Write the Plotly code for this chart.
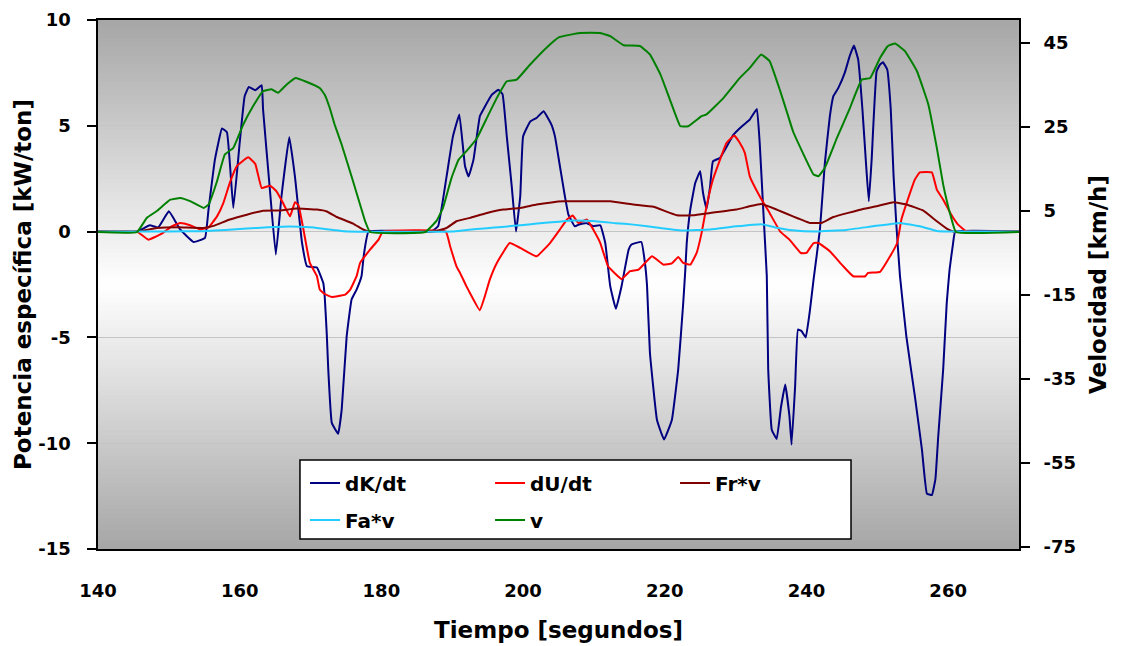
import plotly.graph_objects as go

# ---------------- data ----------------
t_dk = [140, 145.5, 147.3, 148.5, 150, 151.6, 153.5, 155.1, 155.6, 156.5, 157.5, 158.2, 159.1, 160, 160.7,
        161.3, 162.2, 163.1, 163.3, 164.3, 165.1, 165.9, 167, 167.8, 168.8, 169.5, 170.9, 171.8, 172, 172.3,
        172.5, 173, 173.9, 174.4, 175.1, 175.8, 176.5, 177.2, 177.5, 178.2, 187, 188, 189.2, 190.1, 191,
        191.8, 192.3, 193, 193.9, 194.6, 195.6, 196.5, 197.1, 197.7, 198.4, 199, 199.6, 200, 201, 201.9,
        202.9, 204, 204.5, 205.2, 205.9, 206.4, 207.3, 208, 209, 209.9, 210.9, 211.6, 212.3, 213.1, 213.9,
        214.9, 215.3, 216.7, 217.2, 217.5, 217.9, 218.9, 219.9, 221, 221.9, 222.6, 222.9, 223.1, 223.6, 224.3,
        225, 225.4, 225.9, 226.4, 226.8, 227.8, 228.5, 229.7, 230.9, 232, 232.3, 233, 233.4, 233.9, 234.4,
        234.6, 235.1, 235.8, 236.4, 237, 237.6, 237.9, 238.4, 238.8, 239.3, 239.9, 240.5, 241, 241.9, 242.6,
        243.3, 243.8, 244.5, 245.4, 246.1, 246.7, 247.3, 247.9, 248.4, 248.8, 249.2, 249.9, 250.4, 250.8,
        251.4, 251.9, 252.3, 252.7, 253.2, 254.1, 255.3, 256.3, 257, 257.7, 258.2, 258.6, 259.3, 259.8,
        260.2, 260.7, 261, 270]
dk = [0, 0, 0.3, 0.2, 0.96, 0.1, -0.49, -0.3, 1.04, 3.4, 4.87, 4.7, 1.12, 4.2, 6.4,
      6.84, 6.68, 6.92, 5.77, 1.83, -1.09, 1.67, 4.47, 2.6, -0.54, -1.64, -1.7, -2.43, -3.06, -4.9,
      -6.5, -9.04, -9.55, -8.4, -4.95, -3.2, -2.74, -2.1, -1.17, 0, 0, 0.25, 2.6, 4.5, 5.53,
      3.1, 2.6, 3.4, 5.45, 5.9, 6.47, 6.7, 6.5, 4.5, 2.14, 0, 1.67, 4.5, 5.2, 5.37,
      5.69, 5.06, 4.5, 3.09, 1.67, 0.8, 0.25, 0.35, 0.4, 0.25, 0.3, -0.54, -2.58, -3.65, -2.58,
      -0.85, -0.61, -0.49, -1.48, -2.58, -5.7, -8.9, -9.83, -8.9, -6.5, -3.4, -1.8, -0.54, 1.04, 2.3,
      2.85, 1.83, 1.07, 2.14, 3.32, 3.48, 3.87, 4.58, 4.98, 5.29, 5.45, 5.8, 4.19, 1.04, -2.1,
      -6.5, -9.36, -9.8, -8.3, -7.23, -8.73, -10.07, -7.3, -4.63, -4.7, -5.0, -3.69, -2.27, 0.09, 3.25,
      5.45, 6.4, 6.79, 7.5, 8.29, 8.79, 8.13, 5.77, 3.25, 1.43, 3.4, 7.58, 7.9, 8.0,
      7.66, 5.77, 2.61, 0.25, -2.1, -4.95, -7.78, -10.3, -12.38, -12.45, -11.7, -9.67, -6.5, -3.37,
      -1.8, -0.54, 0, 0]

t_du = [140, 145.5, 147.1, 149, 150.4, 151.6, 153, 154.4, 155.6, 156.8, 157.7, 158.6, 159.6, 161.2, 162.2,
        163.1, 164.3, 165.2, 166.1, 167.1, 167.8, 168.3, 169, 169.9, 170.9, 171.3, 172, 173, 174.9, 175.6,
        176.5, 177, 178.4, 179.6, 180.2, 189.1, 189.7, 190.6, 191.1, 192, 192.5, 193.9, 194.6, 195.3, 196.3,
        198.1, 199.6, 201.9, 203.8, 205.2, 206.2, 207, 207.8, 209, 209.9, 210.9, 212, 213.9, 215.1, 216.3,
        218.2, 219.8, 221, 221.9, 222.6, 223.6, 224.5, 225.2, 225.9, 226.8, 227.8, 228.7, 229.8, 230.6,
        231.3, 232, 233.4, 234.8, 236.3, 237.6, 239.2, 240, 241, 241.7, 243.3, 245.2, 246.6, 248.3, 248.7,
        250.4, 251.8, 252.8, 253.4, 254.3, 255.3, 256, 257.7, 258.4, 259.3, 260.3, 261.4, 262.4, 263, 270]
du = [0, 0, -0.38, -0.1, 0.25, 0.41, 0.3, 0.1, 0.2, 0.72, 1.36, 2.3, 3.09, 3.51, 3.2,
      2.06, 2.17, 1.9, 1.36, 0.72, 1.39, 1.25, 0.1, -1.48, -2.1, -2.74, -2.95, -3.09, -2.98, -2.74,
      -2.1, -1.48, -0.85, -0.38, 0, 0, -0.69, -1.64, -1.95, -2.58, -2.9, -3.72, -3.06, -2.27, -1.48,
      -0.54, -0.77, -1.17, -0.54, 0.1, 0.57, 0.76, 0.41, 0.57, 0.1, -0.54, -1.64, -2.24, -1.87, -1.8,
      -1.17, -1.56, -1.5, -1.2, -1.48, -1.56, -1.01, -0.06, 1.2, 2.46, 3.4, 4.19, 4.54, 4.19,
      3.72, 2.61, 1.67, 0.88, 0.0, -0.38, -1.01, -1.01, -0.54, -0.54, -0.93, -1.64, -2.11, -2.11, -1.95,
      -1.9, -1.17, -0.54, 0.57, 1.51, 2.46, 2.8, 2.8, 1.98, 1.51, 0.88, 0.33, 0.05, 0, 0]

t_fr = [140, 145.5, 148.3, 151.4, 154.9, 156.3, 158.6, 161, 163.3, 165.7, 168, 170.9, 172.3, 173.7, 176,
        177.4, 178.2, 187.3, 189.2, 190.6, 192.5, 194.9, 197.2, 199.6, 201.9, 204, 205.7, 212.3, 215.6,
        218.4, 221.7, 224, 226.4, 230.1, 232, 233.6, 235.8, 238.1, 240.5, 242.1, 243.8, 248, 249.9, 252.3,
        254.1, 256.5, 258.4, 260, 260.7, 270]
fr = [0, 0, 0.17, 0.2, 0.17, 0.27, 0.57, 0.8, 0.99, 1.0, 1.09, 1.04, 0.95, 0.69, 0.38,
      0.1, 0, 0, 0.17, 0.49, 0.65, 0.88, 1.04, 1.12, 1.28, 1.38, 1.43, 1.43, 1.28,
      1.17, 0.77, 0.77, 0.88, 1.04, 1.2, 1.31, 1.04, 0.72, 0.41, 0.41, 0.69, 1.07, 1.2, 1.39,
      1.28, 0.99, 0.49, 0.1, 0, 0]

t_fa = [140, 147, 150, 155, 158, 161, 164, 167, 170, 172, 175.3, 190, 192, 194.9, 197, 199.6, 202, 205.1,
        207, 210.9, 213, 215.6, 219.4, 222.6, 226.4, 230.1, 233.6, 236, 238, 241.4, 245.6, 249.4, 253.2,
        256, 258.4, 260, 270]
fa = [0, 0, 0.01, 0.02, 0.08, 0.15, 0.2, 0.24, 0.2, 0.12, 0, 0, 0.08, 0.16, 0.22, 0.3, 0.38, 0.47,
      0.52, 0.47, 0.4, 0.33, 0.17, 0.05, 0.1, 0.25, 0.35, 0.17, 0.06, 0, 0.08, 0.25, 0.41,
      0.25, 0.03, 0, 0]

t_v = [140, 145.5, 146.9, 148.3, 150.2, 151.6, 153, 154.9, 155.6, 156.8, 157.9, 159.1, 160.5, 161.9, 163.3,
       164.5, 165.4, 166.6, 167.9, 169.4, 171.3, 172, 172.7, 173.4, 174.4, 176, 177, 177.7, 178.4, 186.2,
       187.8, 188.7, 189.9, 190.9, 192, 193.5, 194.9, 196.3, 197.7, 199.1, 201, 203.3, 205.1, 208, 210.9,
       212.3, 214.2, 216.5, 217.9, 219.4, 220.8, 222.2, 223.3, 225.2, 225.9, 228.3, 230.6, 232, 233.6,
       234.8, 236.3, 237.2, 238.1, 239.6, 241, 241.7, 242.6, 244.3, 246.1, 247.8, 249, 250.4, 251.5, 252.5,
       253.9, 255.6, 257.2, 258.4, 259.3, 260.3, 261.1, 270]
v = [0, 0, 3.4, 5.0, 7.7, 8.1, 7.35, 5.75, 6.5, 12.1, 18.45, 20.05, 25.6, 30, 33.55,
     34, 33.15, 35.1, 36.7, 35.8, 34.3, 32.7, 29.6, 25.6, 20.8, 12.1, 6.5, 2.6, 0, 0,
     2.7, 5.75, 12.9, 17.25, 19.25, 22.4, 27.2, 31.95, 35.9, 36.3, 39.9, 43.9, 46.4, 47.4, 47.4,
     46.65, 44.5, 44.3, 42.3, 37.5, 31.2, 25.2, 25.2, 27.6, 28.0, 31.95, 36.7, 39.1, 42.3,
     40.7, 33.55, 28.8, 24.0, 18.45, 13.7, 13.3, 15.3, 22.4, 29.4, 36.3, 36.7, 41.5, 44.3, 44.9,
     43.1, 38.3, 30.4, 20.05, 11.3, 4.2, 0, 0]

x_ticks = [140, 160, 180, 200, 220, 240, 260]
y_left_ticks = [-15, -10, -5, 0, 5, 10]
y_right_ticks = [-75, -55, -35, -15, 5, 25, 45]

# ---------------- figure ----------------
FONT = "DejaVu Sans, Liberation Sans, Arial, sans-serif"
tick_font = dict(family=FONT, size=18, color="black", weight="bold")
title_font = dict(family=FONT, size=23, color="black", weight="bold")
leg_font = dict(family=FONT, size=20, color="black", weight="bold")

NB = "\u00a0"
left_text = [f"{t}{NB * 2}\u200b" for t in y_left_ticks]
right_text = [f"{NB}\u2009{t}" for t in y_right_ticks]

fig = go.Figure()

def line(color):
    return dict(color=color, width=2, shape="spline", smoothing=0.3)

fig.add_trace(go.Scatter(x=t_dk, y=dk, name="dK/dt", mode="lines", line=line("#000080"), legend="legend"))
fig.add_trace(go.Scatter(x=t_du, y=du, name="dU/dt", mode="lines", line=line("#ff0000"), legend="legend"))
fig.add_trace(go.Scatter(x=t_fr, y=fr, name="Fr*v", mode="lines", line=line("#800000"), legend="legend"))
fig.add_trace(go.Scatter(x=t_fa, y=fa, name="Fa*v", mode="lines", line=line("#22ccff"), legend="legend2"))
fig.add_trace(go.Scatter(x=t_v, y=v, name="v", mode="lines", line=line("#008000"), yaxis="y2",
                         legend="legend2"))

# background gradient (dark - white - dark)
shapes = []
N = 120
for i in range(N):
    f0 = i / N
    f1 = (i + 1) / N
    d = abs((f0 + f1) / 2 - 0.5) * 2
    c = round(255 - (255 - 166) * d)
    shapes.append(dict(type="rect", xref="x domain", yref="y domain", x0=0, x1=1, y0=f0,
                       y1=min(1, f1 + 0.003), fillcolor=f"rgb({c},{c},{c})", line=dict(width=0),
                       layer="below"))
# legend box
shapes.append(dict(type="rect", xref="paper", yref="paper", x0=0.2193, x1=0.8176, y0=0.0189, y1=0.1682,
                   fillcolor="white", line=dict(color="black", width=1.5), layer="between"))

leg_common = dict(orientation="h", xanchor="left", yanchor="middle", bgcolor="rgba(0,0,0,0)",
                  borderwidth=0, entrywidth=140, entrywidthmode="pixels", font=leg_font,
                  itemwidth=30, tracegroupgap=0)

fig.update_layout(
    width=1121, height=646, autosize=False,
    margin=dict(l=98, r=102, t=20, b=97, pad=0, autoexpand=False),
    paper_bgcolor="white", plot_bgcolor="white",
    shapes=shapes,
    showlegend=True,
    legend=dict(x=0.2248, y=0.1248, **leg_common),
    legend2=dict(x=0.2248, y=0.0548, **leg_common),
    xaxis=dict(range=[140, 270], tickvals=x_ticks, ticks="", showgrid=False, zeroline=False,
               showline=True, mirror=True, linecolor="black", linewidth=2, automargin=False,
               tickfont=tick_font, ticklabelstandoff=24,
               title=dict(text="Tiempo [segundos]", font=title_font, standoff=22)),
    xaxis2=dict(range=[140, 270], overlaying="x", anchor="free", position=0.6, side="bottom",
                tickvals=x_ticks, ticks="outside", ticklen=7, tickcolor="#707070", tickwidth=1.5,
                showline=True, linecolor="#808080", linewidth=1.5, showticklabels=False,
                showgrid=False, zeroline=False, automargin=False),
    yaxis=dict(range=[-15, 10], tickvals=y_left_ticks, ticktext=left_text, ticks="outside", ticklen=9,
               tickcolor="black", tickwidth=1.5, showline=True, linecolor="black", linewidth=2,
               showgrid=True, gridcolor="#c4c4c4", gridwidth=1, zeroline=False, tickfont=tick_font,
               automargin=False,
               title=dict(text="Potencia específica [kW/ton]", font=title_font, standoff=0)),
    yaxis2=dict(range=[-75.5, 50.5], tickvals=y_right_ticks, ticktext=right_text, overlaying="y",
                side="right", anchor="x", ticks="outside", ticklen=9, tickcolor="black", tickwidth=1.5,
                showline=True, linecolor="black", linewidth=2, showgrid=False, zeroline=False,
                tickfont=tick_font, automargin=False,
                title=dict(text="Velocidad [km/h]", font=title_font, standoff=15)),
)

fig.write_html("out.html")
